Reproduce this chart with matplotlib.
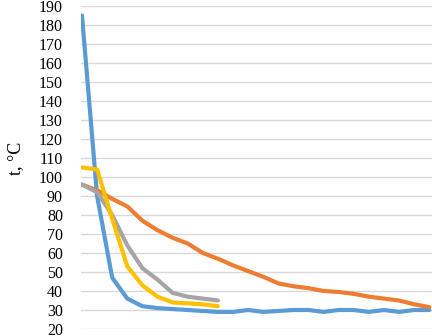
import matplotlib
matplotlib.use("Agg")
import matplotlib.pyplot as plt
import numpy as np

# значения (по точкам, шаг одинаковый)
blue = [185, 90, 47, 36, 32, 31, 30.5, 30, 29.5, 29, 29, 30, 29, 29.5,
        30, 30, 29, 30, 30, 29, 30, 29, 30, 30]
orange = [96, 93, 88.5, 84.5, 77, 72, 68, 65, 60, 57, 53.5, 50.5, 47.5, 44,
          42.5, 41.5, 40, 39.5, 38.5, 37, 36, 35, 33, 31.5]
gray = [96, 92, 80, 64, 52, 46, 39, 37, 36, 35]
yellow = [105, 104, 78, 53, 43, 37, 34, 33.5, 33, 32]

y_ticks = list(range(20, 200, 10))
y_label = "t, °C"

colors = ["#5B9BD5", "#ED7D31", "#A5A5A5", "#FFC000"]
series = [blue, orange, gray, yellow]

W, H = 432, 336
fig = plt.figure(figsize=(W / 100, H / 100), dpi=100)
fig.patch.set_facecolor("white")

# оси: от x=81 до правого края, от y=6 до y=329 (в пикселях)
ax = fig.add_axes([81 / W, (H - 329) / H, (W - 81) / W, (329 - 6) / H])

step = 15.1  # px на одну точку
for i, (vals, c) in enumerate(zip(series, colors)):
    ax.plot(np.arange(len(vals)), vals, color=c, lw=3.0,
            solid_joinstyle="round", solid_capstyle="round", zorder=3 + i)

ax.set_xlim(-1 / step, (W - 82) / step)
ax.set_ylim(20, 190)
ax.set_yticks(y_ticks)
ax.set_xticks([])
ax.yaxis.grid(True, color="#D9D9D9", lw=1.0)
ax.set_axisbelow(True)
for s in ax.spines.values():
    s.set_visible(False)
ax.tick_params(axis="y", length=0, pad=13, labelsize=11.5)
for lab in ax.get_yticklabels():
    lab.set_fontfamily("Liberation Serif")

fig.text(16 / W, 1 - 158 / H, y_label, rotation=90, ha="center", va="center",
         fontsize=13, family="Liberation Serif")

plt.savefig("out.png", dpi=100, facecolor="white")
